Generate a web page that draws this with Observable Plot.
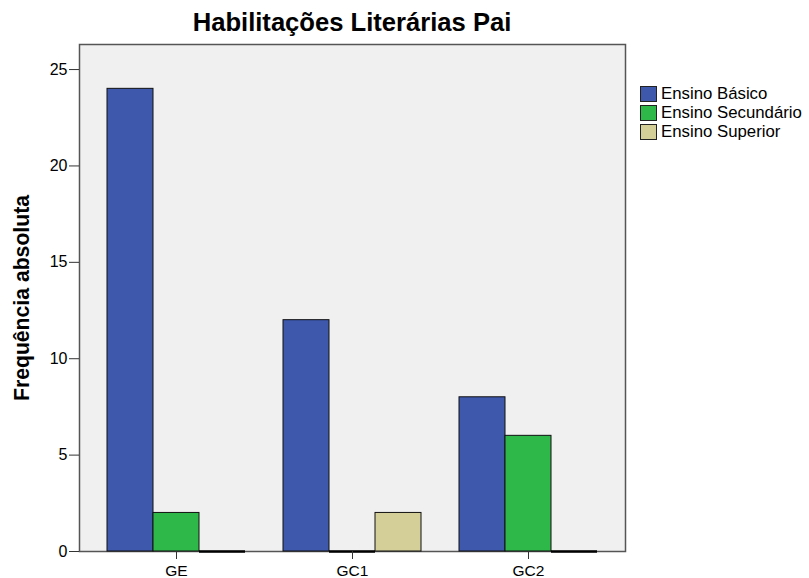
<!DOCTYPE html>
<html><head><meta charset="utf-8">
<script src="https://cdn.jsdelivr.net/npm/d3@7"></script>
<script src="https://cdn.jsdelivr.net/npm/@observablehq/plot@0.6"></script>
<style>
body{margin:0;background:#fff;font-family:"Liberation Sans",Arial,sans-serif;}
#wrap{position:relative;width:809px;height:578px;overflow:hidden;}
.layer{position:absolute;left:0;top:0;}
#title{position:absolute;left:79px;width:546px;top:8px;text-align:center;font-weight:bold;font-size:25.6px;line-height:28px;color:#000;}
#ylabel{position:absolute;left:22px;top:298px;transform:translate(-50%,-50%) rotate(-90deg);font-weight:bold;font-size:21.2px;white-space:nowrap;color:#000;}
#legend{position:absolute;left:640px;top:84px;font-size:16.8px;color:#000;}
.item{display:flex;align-items:center;height:19px;}
.sw{width:17px;height:16px;border:1px solid #222;margin-right:4px;box-sizing:border-box;}
</style></head>
<body>
<div id="wrap">
  <div id="back" class="layer"></div>
  <div id="front" class="layer"></div>
  <div id="title">Habilitações Literárias Pai</div>
  <div id="ylabel">Frequência absoluta</div>
  <div id="legend"></div>
</div>
<script>
const groups = ["GE", "GC1", "GC2"];
const levels = ["Ensino Básico", "Ensino Secundário", "Ensino Superior"];
const colors = ["#3E58AC", "#2EB84A", "#D4CF98"];
const basico = [24, 12, 8];
const secundario = [2, 0, 6];
const superior = [0, 2, 0];
const yTicks = [0, 5, 10, 15, 20, 25];

const series = [basico, secundario, superior];
const table = [];
groups.forEach((g, i) => levels.forEach((l, j) => table.push({group: g, level: l, value: series[j][i]})));

const common = {
  width: 640, height: 578,
  marginLeft: 79, marginRight: 15, marginTop: 44, marginBottom: 27,
  style: {fontFamily: "Liberation Sans, Arial, sans-serif", fontSize: "15px", color: "#000", background: "transparent"},
  y: {domain: [0, 26.3]}
};

// Back layer: plot frame and y axis
const back = Plot.plot({
  ...common,
  marks: [
    Plot.frame({fill: "#F0F0F0", stroke: "#555", strokeWidth: 1.5}),
    Plot.axisY({ticks: yTicks, tickSize: 10, tickPadding: 2, fontSize: 16, label: null, stroke: "#333", fill: "#000"})
  ]
});
document.getElementById("back").appendChild(back);

// Front layer: grouped bars and group axis
const front = Plot.plot({
  ...common,
  fx: {domain: groups, paddingInner: 0.207, paddingOuter: 0.153, label: null},
  x: {domain: levels, padding: 0, axis: null},
  y: {domain: [0, 26.3], axis: null},
  color: {domain: levels, range: colors},
  marks: [
    Plot.barY(table, {fx: "group", x: "level", y: "value", fill: "level", stroke: "#111", strokeWidth: 1}),
    Plot.tickY(table.filter(d => d.value === 0), {fx: "group", x: "level", y: "value", stroke: "#000", strokeWidth: 2.5}),
    Plot.axisFx({anchor: "bottom", tickSize: 8, tickPadding: 5, fontSize: 15.5, label: null, stroke: "#333", fill: "#000"})
  ]
});
document.getElementById("front").appendChild(front);

const legend = document.getElementById("legend");
levels.forEach((l, j) => {
  const item = document.createElement("div");
  item.className = "item";
  const sw = document.createElement("div");
  sw.className = "sw";
  sw.style.background = colors[j];
  const t = document.createElement("span");
  t.textContent = l;
  item.appendChild(sw);
  item.appendChild(t);
  legend.appendChild(item);
});
</script>
</body></html>
